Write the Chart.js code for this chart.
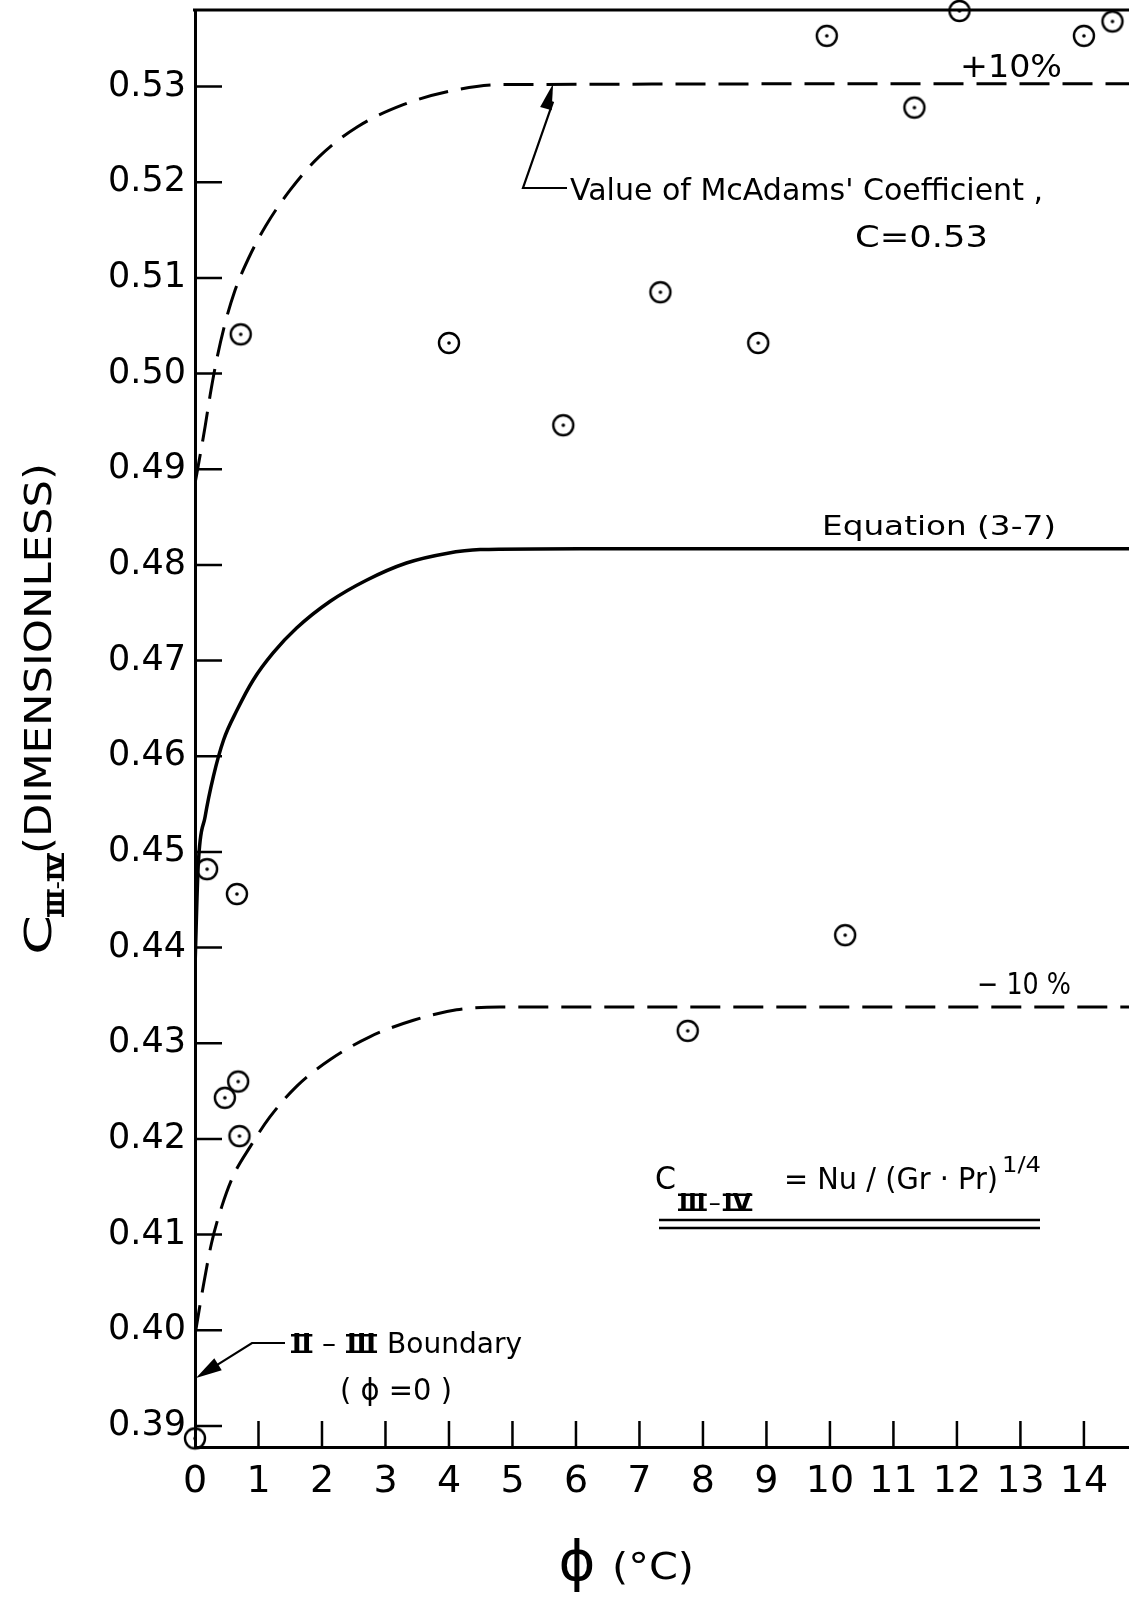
<!DOCTYPE html>
<html>
<head>
<meta charset="utf-8">
<title>C III-IV versus phi</title>
<script src="https://cdn.jsdelivr.net/npm/chart.js@4.4.1/dist/chart.umd.min.js"></script>
<style>
  html, body { margin: 0; padding: 0; background: #fff; }
  canvas { display: block; }
</style>
</head>
<body>
<canvas id="myChart" width="1129" height="1600"></canvas>
<script>
const FONT = '"DejaVu Sans", sans-serif';

// measured points: phi (°C) and C III-IV
const phiObs = [0, 0.19, 0.66, 0.72, 0.47, 0.68, 0.70, 4.0, 5.80, 7.33, 7.76, 8.87, 9.95, 10.24, 11.33, 12.04, 14.0, 14.45];
const cObs = [0.3887, 0.4482, 0.4456, 0.5041, 0.4243, 0.4260, 0.4203, 0.5032, 0.4946, 0.5085, 0.4313, 0.5032, 0.5353, 0.4413, 0.5278, 0.5379, 0.5353, 0.5368];

// Equation (3-7)
const phiEq = [0, 0.05, 0.16, 0.29, 0.45, 0.66, 0.92, 1.23, 1.60, 2.13, 2.70, 3.33, 3.96, 4.49, 6.06, 14.71];
const cEq = [0.4380, 0.4485, 0.4537, 0.4579, 0.4617, 0.4648, 0.4680, 0.4708, 0.4734, 0.4762, 0.4784, 0.4802, 0.4812, 0.4816, 0.4817, 0.4817];

// +10 % band
const phiUp = [0, 0.09, 0.16, 0.24, 0.34, 0.46, 0.62, 0.84, 1.12, 1.50, 1.96, 2.56, 3.28, 4.00, 4.80, 14.71];
const cUp = [0.4885, 0.4918, 0.4945, 0.4978, 0.5014, 0.5049, 0.5085, 0.5120, 0.5155, 0.5192, 0.5227, 0.5258, 0.5281, 0.5295, 0.5302, 0.5303];

// -10 % band
const phiLo = [0, 0.13, 0.26, 0.42, 0.60, 0.87, 1.18, 1.60, 2.13, 2.76, 3.44, 4.12, 4.80, 14.71];
const cLo = [0.3995, 0.4046, 0.4091, 0.4129, 0.4161, 0.4192, 0.4223, 0.4255, 0.4283, 0.4307, 0.4324, 0.4335, 0.4338, 0.4338];

const xTicks = [0, 1, 2, 3, 4, 5, 6, 7, 8, 9, 10, 11, 12, 13, 14];
const yTicks = [0.39, 0.40, 0.41, 0.42, 0.43, 0.44, 0.45, 0.46, 0.47, 0.48, 0.49, 0.50, 0.51, 0.52, 0.53];

const pairs = (xs, ys) => xs.map((x, i) => ({ x: x, y: ys[i] }));

// open circle with a centre dot
function ringDot() {
  const c = document.createElement("canvas");
  c.width = 26;
  c.height = 26;
  const g = c.getContext("2d");
  g.strokeStyle = "#000";
  g.lineWidth = 2.4;
  g.beginPath();
  g.arc(13, 13, 10, 0, Math.PI * 2);
  g.stroke();
  g.fillStyle = "#000";
  g.beginPath();
  g.arc(13, 13, 1.8, 0, Math.PI * 2);
  g.fill();
  return c;
}

function txt(ctx, s, x, base, size, width, weight) {
  ctx.save();
  ctx.font = (weight || "normal") + " " + size + "px " + FONT;
  ctx.textBaseline = "alphabetic";
  ctx.textAlign = "left";
  const w = ctx.measureText(s).width;
  ctx.translate(x, base);
  if (width) ctx.scale(width / w, 1);
  ctx.fillText(s, 0, 0);
  ctx.restore();
}

// roman numerals with bars on top and bottom
function roman(ctx, s, x, base, size, lw) {
  ctx.save();
  ctx.font = "bold " + size + "px " + FONT;
  ctx.textBaseline = "alphabetic";
  ctx.textAlign = "left";
  const w = ctx.measureText(s).width;
  ctx.fillText(s, x, base);
  const cap = size * 0.73;
  ctx.lineWidth = lw;
  ctx.beginPath();
  ctx.moveTo(x - 1, base - cap + lw / 2);
  ctx.lineTo(x + w + 1, base - cap + lw / 2);
  ctx.moveTo(x - 1, base - lw / 2);
  ctx.lineTo(x + w + 1, base - lw / 2);
  ctx.stroke();
  ctx.restore();
  return x + w;
}

function line(ctx, pts, lw) {
  ctx.lineWidth = lw;
  ctx.beginPath();
  ctx.moveTo(pts[0][0], pts[0][1]);
  for (let i = 1; i < pts.length; i++) ctx.lineTo(pts[i][0], pts[i][1]);
  ctx.stroke();
}

function arrowHead(ctx, fx, fy, tx, ty, len, half) {
  const a = Math.atan2(ty - fy, tx - fx);
  const bx = tx - len * Math.cos(a), by = ty - len * Math.sin(a);
  ctx.beginPath();
  ctx.moveTo(tx, ty);
  ctx.lineTo(bx + half * Math.sin(a), by - half * Math.cos(a));
  ctx.lineTo(bx - half * Math.sin(a), by + half * Math.cos(a));
  ctx.closePath();
  ctx.fill();
}

const decor = {
  id: "decor",
  afterDraw(chart) {
    const ctx = chart.ctx;
    const xs = chart.scales.x, ys = chart.scales.y;
    const a = chart.chartArea;
    ctx.save();
    ctx.strokeStyle = "#000";
    ctx.fillStyle = "#000";
    ctx.lineCap = "butt";

    // top edge of the frame
    line(ctx, [[a.left - 2, a.top], [chart.width, a.top]], 3);

    // tick marks pointing into the plot
    ctx.lineWidth = 2.5;
    ctx.beginPath();
    yTicks.forEach(v => {
      const py = ys.getPixelForValue(v);
      ctx.moveTo(a.left, py);
      ctx.lineTo(a.left + 27, py);
    });
    xTicks.forEach(v => {
      if (v === 0) return;
      const px = xs.getPixelForValue(v);
      ctx.moveTo(px, a.bottom);
      ctx.lineTo(px, a.bottom - 26);
    });
    ctx.stroke();

    // McAdams leader
    const tipX = xs.getPixelForValue(5.64), tipY = ys.getPixelForValue(0.5303);
    line(ctx, [[tipX, tipY + 18], [523, 188], [567, 188]], 2.2);
    arrowHead(ctx, 523, 188, tipX, tipY, 26, 6);
    txt(ctx, "Value of McAdams' Coefficient ,", 570, 200, 30, 473);
    txt(ctx, "C=0.53", 855, 247, 30, 133);

    txt(ctx, "+10%", 960, 77, 32, 102);
    txt(ctx, "Equation (3-7)", 822, 535, 26, 234);
    txt(ctx, "\u2212 10 %", 977, 994, 30, 94);

    // II-III boundary leader
    const bX = xs.getPixelForValue(0) + 1, bY = ys.getPixelForValue(0.395);
    line(ctx, [[285, 1343], [252, 1343], [bX + 16, bY - 10]], 2.2);
    arrowHead(ctx, 252, 1343, bX, bY, 26, 7);
    roman(ctx, "II", 292, 1353, 26, 2.4);
    txt(ctx, "\u2013", 322, 1353, 28, 14);
    roman(ctx, "III", 347, 1353, 26, 2.4);
    txt(ctx, "Boundary", 387, 1353, 28, 135);
    txt(ctx, "( \u03d5 =0 )", 340, 1400, 30, 112);

    // definition of C III-IV
    txt(ctx, "C", 655, 1189, 32, 21);
    let cx = roman(ctx, "III", 679, 1211, 24, 2.4);
    txt(ctx, "\u2013", cx + 3, 1211, 24, 12);
    roman(ctx, "IV", cx + 18, 1211, 24, 2.4);
    txt(ctx, "= Nu / (Gr \u00b7 Pr)", 784, 1189, 31, 214);
    txt(ctx, "1/4", 1002, 1172, 22, 39);
    line(ctx, [[659, 1220], [1040, 1220]], 2.6);
    line(ctx, [[659, 1228], [1040, 1228]], 2.6);

    // x-axis title
    ctx.font = "normal 56px " + FONT;
    ctx.textAlign = "center";
    ctx.textBaseline = "middle";
    ctx.fillText("\u03d5", 577, 1565);
    txt(ctx, "(\u00b0C)", 612, 1579, 38, 82);

    // y-axis title, written bottom to top
    ctx.save();
    ctx.translate(0, 1600);
    ctx.rotate(-Math.PI / 2);
    txt(ctx, "C", 645, 51, 38, 40);
    let u = roman(ctx, "III", 684, 64, 23, 2.4);
    txt(ctx, "-", u + 1, 64, 23, 8);
    roman(ctx, "IV", u + 10, 64, 23, 2.4);
    txt(ctx, "(DIMENSIONLESS)", 746, 51, 37, 391);
    ctx.restore();

    ctx.restore();
  }
};

const ctx = document.getElementById("myChart").getContext("2d");

const myChart = new Chart(ctx, {
  type: "scatter",
  data: {
    datasets: [
      {
        label: "Equation (3-7)",
        data: pairs(phiEq, cEq),
        showLine: true,
        borderColor: "#000",
        borderWidth: 3.5,
        pointRadius: 0,
        cubicInterpolationMode: "monotone",
      },
      {
        label: "+10%",
        data: pairs(phiUp, cUp),
        showLine: true,
        borderColor: "#000",
        borderWidth: 3,
        borderDash: [30, 13],
        pointRadius: 0,
        cubicInterpolationMode: "monotone",
      },
      {
        label: "-10%",
        data: pairs(phiLo, cLo),
        showLine: true,
        borderColor: "#000",
        borderWidth: 3,
        borderDash: [30, 13],
        pointRadius: 0,
        cubicInterpolationMode: "monotone",
      },
      {
        label: "Data",
        data: pairs(phiObs, cObs),
        pointStyle: ringDot(),
        pointRadius: 10,
        clip: false,
      },
    ],
  },
  options: {
    responsive: false,
    animation: false,
    devicePixelRatio: 1,
    layout: { autoPadding: false, padding: { left: 0, top: 10, right: 0, bottom: 0 } },
    plugins: {
      legend: { display: false },
      tooltip: { enabled: false },
    },
    scales: {
      x: {
        type: "linear",
        min: 0,
        max: 14.71,
        afterFit: s => {
          s.height = 153;
          s.paddingLeft = 0;
          s.paddingRight = 0;
        },
        afterBuildTicks: s => { s.ticks = xTicks.map(v => ({ value: v })); },
        grid: { display: false, drawTicks: false },
        border: { display: true, color: "#000", width: 3 },
        ticks: {
          color: "#000",
          padding: 12,
          maxRotation: 0,
          autoSkip: false,
          font: { family: FONT, size: 38 },
          callback: v => String(v),
        },
      },
      y: {
        type: "linear",
        min: 0.3878,
        max: 0.5380,
        afterFit: s => {
          s.width = 195;
          s.paddingTop = 0;
          s.paddingBottom = 0;
        },
        afterBuildTicks: s => { s.ticks = yTicks.map(v => ({ value: v })); },
        grid: { display: false, drawTicks: false },
        border: { display: true, color: "#000", width: 3 },
        ticks: {
          color: "#000",
          padding: 9,
          autoSkip: false,
          font: { family: FONT, size: 35 },
          callback: v => v.toFixed(2),
        },
      },
    },
  },
  plugins: [decor],
});
</script>
</body>
</html>
